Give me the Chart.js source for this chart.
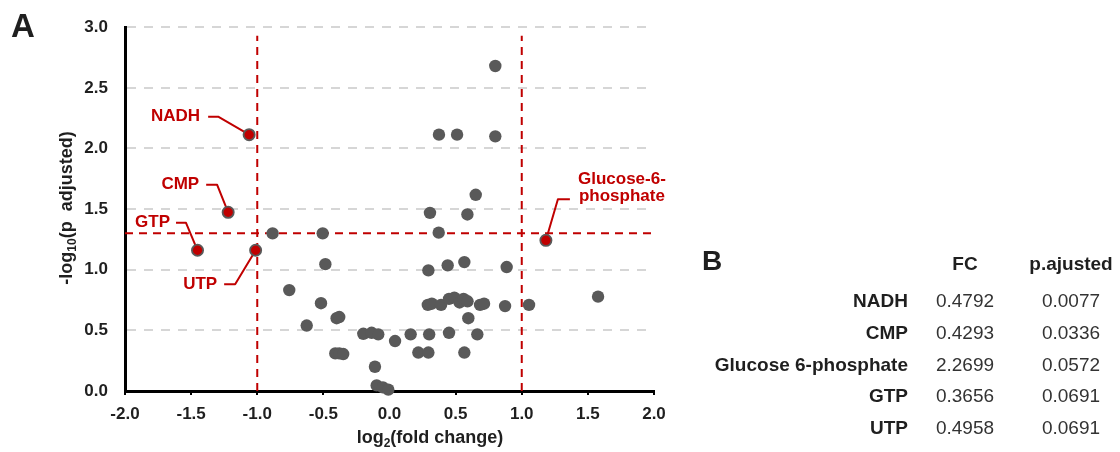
<!DOCTYPE html>
<html>
<head>
<meta charset="utf-8">
<script src="https://cdn.jsdelivr.net/npm/chart.js@4.4.1/dist/chart.umd.min.js"></script>
<style>
html,body{margin:0;padding:0;background:#fff}
#wrap{position:relative;width:1120px;height:452px;font-family:"Liberation Sans",Arial,sans-serif;color:#1f1f1f}
#wrap canvas{position:absolute;left:0;top:0}
.t{position:absolute;white-space:nowrap;line-height:1;transform:translateY(-50%)}
.r{transform:translate(-100%,-50%)}
.c{transform:translate(-50%,-50%)}
.b{font-weight:bold}
.n{color:#333}
</style>
</head>
<body>
<div id="wrap">
  <canvas id="ch" width="1120" height="452"></canvas>
  <div class="t b" style="left:11px;top:25px;font-size:33px">A</div>
  <div class="t b" style="left:702px;top:261px;font-size:28px">B</div>
  <div id="tbl"></div>
</div>
<script>
// volcano data: log2 fold change / -log10(p adjusted), other metabolites
const xVals = [-0.884,-0.505,-0.485,-0.758,-0.518,-0.40,-0.38,-0.626,-0.198,-0.135,-0.085,0.042,-0.41,-0.38,-0.35,-0.11,-0.097,-0.05,-0.009,
  0.306,0.589,0.372,0.294,0.44,0.566,0.886,0.29,0.32,0.39,0.45,0.49,0.53,0.56,0.59,0.685,0.715,0.874,1.055,1.577,0.596,
  0.16,0.30,0.45,0.664,0.218,0.294,0.566,0.80,0.374,0.511,0.80,0.652]
const yVals = [1.30,1.30,1.046,0.832,0.724,0.60,0.61,0.54,0.472,0.48,0.467,0.412,0.31,0.31,0.305,0.20,0.046,0.03,0.011,
  1.469,1.456,1.306,0.995,1.036,1.063,1.022,0.71,0.72,0.71,0.76,0.77,0.73,0.76,0.74,0.71,0.72,0.70,0.71,0.778,0.60,
  0.467,0.467,0.48,0.467,0.317,0.317,0.317,2.68,2.114,2.114,2.10,1.618]

// panel B table (the highlighted metabolites)
const tableNames = ['NADH','CMP','Glucose 6-phosphate','GTP','UTP']
const tableFC = ['0.4792','0.4293','2.2699','0.3656','0.4958']
const tablePadj = ['0.0077','0.0336','0.0572','0.0691','0.0691']
const tableHead = ['FC','p.ajusted']

const xTickLabels = ['-2.0','-1.5','-1.0','-0.5','0.0','0.5','1.0','1.5','2.0']
const yTickLabels = ['0.0','0.5','1.0','1.5','2.0','2.5','3.0']

const fcCut = 1
const pCut = 1.3
const vLineTop = 2.93

const hitX = tableFC.map(v => Math.log2(Number(v)))
const hitY = tablePadj.map(v => -Math.log10(Number(v)))

// callout label placement, in pixels relative to the point
const callouts = {
  'NADH': {tx:-49, ty:-18, align:'right', lines:['NADH'], path:[[-41,-18],[-31,-18]]},
  'CMP': {tx:-29, ty:-27.5, align:'right', lines:['CMP'], path:[[-22,-27.5],[-11,-27.5]]},
  'GTP': {tx:-27.5, ty:-27.5, align:'right', lines:['GTP'], path:[[-21.5,-27.5],[-11.5,-27.5]]},
  'UTP': {tx:-38.5, ty:34.5, align:'right', lines:['UTP'], path:[[-31.5,34],[-20.5,34]]},
  'Glucose 6-phosphate': {tx:76, ty:-61, align:'center', lines:['Glucose-6-','phosphate'], lh:16.6, path:[[24,-41],[12,-41]]}
}

const RED = '#c00000'
const GREY = '#595959'
const FONT = '"Liberation Sans", Arial, sans-serif'

// table
const tbl = document.getElementById('tbl')
function txt(cls, x, y, size, s){
  const d = document.createElement('div')
  d.className = 't ' + cls
  d.style.left = x + 'px'; d.style.top = y + 'px'; d.style.fontSize = size + 'px'
  d.textContent = s
  tbl.appendChild(d)
}
txt('c b', 965, 263, 19, tableHead[0])
txt('c b', 1071, 263, 19, tableHead[1])
tableNames.forEach((n, i) => {
  const y = 300 + i * 31.75
  txt('r b', 908, y, 19, n)
  txt('c n', 965, y, 19, tableFC[i])
  txt('c n', 1071, y, 19, tablePadj[i])
})

function drawParts(ctx, parts, cx, cy, size){
  const subSize = Math.round(size * 0.66)
  let w = 0
  parts.forEach(p => { ctx.font = 'bold ' + (p.sub ? subSize : size) + 'px ' + FONT; p.w = ctx.measureText(p.t).width; w += p.w })
  let x = cx - w / 2
  ctx.textBaseline = 'middle'; ctx.textAlign = 'left'
  parts.forEach(p => {
    ctx.font = 'bold ' + (p.sub ? subSize : size) + 'px ' + FONT
    ctx.fillText(p.t, x, cy + (p.sub ? size * 0.3 : 0))
    x += p.w
  })
}

const extras = {
  id: 'extras',
  beforeDatasetsDraw(chart){
    const {ctx, scales:{x, y}} = chart
    ctx.save()
    ctx.strokeStyle = RED; ctx.lineWidth = 2; ctx.lineJoin = 'round'
    tableNames.forEach((n, i) => {
      const c = callouts[n], px = x.getPixelForValue(hitX[i]), py = y.getPixelForValue(hitY[i])
      ctx.beginPath()
      ctx.moveTo(px + c.path[0][0], py + c.path[0][1])
      ctx.lineTo(px + c.path[1][0], py + c.path[1][1])
      ctx.lineTo(px, py)
      ctx.stroke()
    })
    ctx.restore()
  },
  afterDraw(chart){
    const {ctx, scales:{x, y}} = chart
    ctx.save()
    ctx.fillStyle = RED
    ctx.font = 'bold 17px ' + FONT
    ctx.textBaseline = 'middle'
    tableNames.forEach((n, i) => {
      const c = callouts[n], px = x.getPixelForValue(hitX[i]), py = y.getPixelForValue(hitY[i])
      ctx.textAlign = c.align
      c.lines.forEach((l, k) => ctx.fillText(l, px + c.tx, py + c.ty + k * (c.lh || 0)))
    })
    ctx.fillStyle = '#1f1f1f'
    drawParts(ctx, [{t:'log'},{t:'2', sub:true},{t:'(fold change)'}], 430, 438, 18)
    ctx.translate(67, 208)
    ctx.rotate(-Math.PI / 2)
    drawParts(ctx, [{t:'-log'},{t:'10', sub:true},{t:'(p  adjusted)'}], 0, 0, 18)
    ctx.restore()
  }
}

const tickFont = {family: FONT, size: 17, weight: 'bold'}

new Chart(document.getElementById('ch'), {
  type: 'scatter',
  data: {
    datasets: [
      {data: hitX.map((v, i) => ({x: v, y: hitY[i]})), backgroundColor: RED, borderColor: GREY, borderWidth: 1.8, pointRadius: 5.6, clip: false, order: 0},
      {data: xVals.map((v, i) => ({x: v, y: yVals[i]})), backgroundColor: GREY, borderColor: GREY, borderWidth: 0, pointRadius: 6.2, clip: false, order: 1},
      {data: [{x: -2, y: pCut}, {x: 2, y: pCut}], showLine: true, borderColor: RED, borderWidth: 2, borderDash: [8, 6], pointRadius: 0, order: 2},
      {data: [{x: -fcCut, y: 0}, {x: -fcCut, y: vLineTop}], showLine: true, borderColor: RED, borderWidth: 2, borderDash: [8, 6], pointRadius: 0, clip: false, order: 2},
      {data: [{x: fcCut, y: 0}, {x: fcCut, y: vLineTop}], showLine: true, borderColor: RED, borderWidth: 2, borderDash: [8, 6], pointRadius: 0, clip: false, order: 2}
    ]
  },
  options: {
    responsive: false,
    animation: false,
    events: [],
    layout: {padding: {left: 0, top: 22, right: 466, bottom: 0}},
    plugins: {legend: {display: false}, tooltip: {enabled: false}},
    scales: {
      x: {
        type: 'linear', min: -2, max: 2,
        ticks: {stepSize: 0.5, color: '#1f1f1f', font: tickFont, padding: 9, callback: (v, i) => xTickLabels[i]},
        grid: {display: true, drawOnChartArea: false, drawTicks: true, tickLength: 4, color: '#000', lineWidth: 2},
        border: {display: true, color: '#000', width: 3},
        afterFit(s){ s.height = 452 - 391 }
      },
      y: {
        type: 'linear', min: 0, max: 3,
        ticks: {stepSize: 0.5, color: '#1f1f1f', font: tickFont, padding: 17, callback: (v, i) => yTickLabels[i]},
        grid: {drawTicks: false, lineWidth: 2, color: c => c.tick && c.tick.value === 0 ? 'rgba(0,0,0,0)' : '#d6d6d6'},
        border: {display: true, color: '#000', width: 3, dash: [9, 8]},
        afterFit(s){ s.width = 125 }
      }
    }
  },
  plugins: [extras]
})
</script>
</body>
</html>
